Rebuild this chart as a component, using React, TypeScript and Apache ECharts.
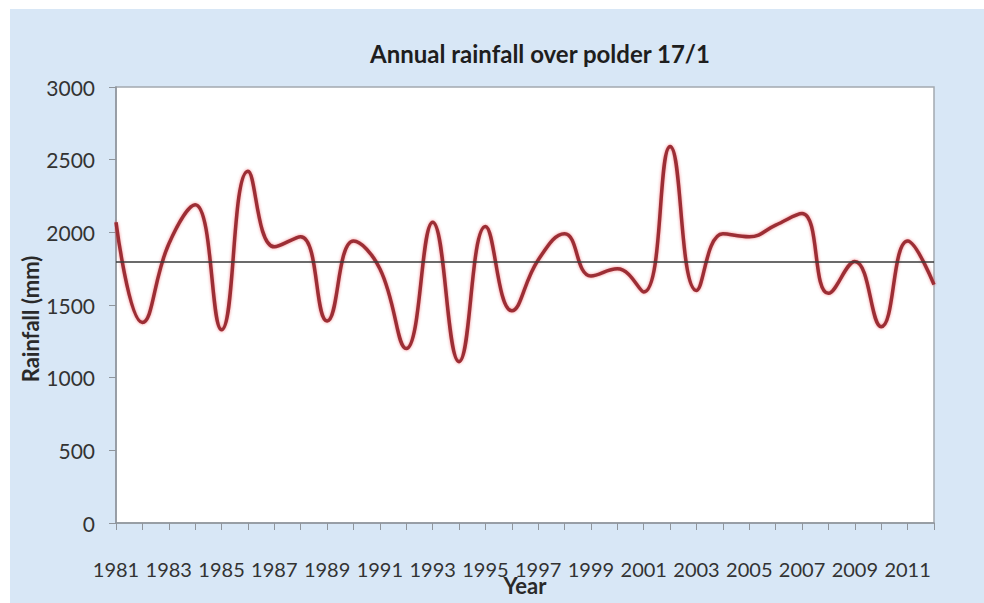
import React, { useEffect, useRef } from "react";
import * as echarts from "echarts";

const years = [
  "1981", "1982", "1983", "1984", "1985", "1986", "1987", "1988",
  "1989", "1990", "1991", "1992", "1993", "1994", "1995", "1996",
  "1997", "1998", "1999", "2000", "2001", "2002", "2003", "2004",
  "2005", "2006", "2007", "2008", "2009", "2010", "2011", "2012",
];

const rainfall = [
  2070, 1380, 1920, 2190, 1330, 2420, 1900, 1970,
  1390, 1940, 1750, 1200, 2070, 1110, 2040, 1460,
  1810, 1990, 1700, 1750, 1590, 2590, 1600, 1990,
  1970, 2050, 2130, 1580, 1800, 1350, 1940, 1640,
];

const meanRainfall = 1800;

const titleText = "Annual rainfall over polder 17/1";
const xName = "Year";
const yName = "Rainfall (mm)";

const FONT = "Lato, 'Liberation Sans', sans-serif";

export default function App() {
  const ref = useRef<HTMLDivElement>(null);

  useEffect(() => {
    if (!ref.current) return;
    const chart = echarts.init(ref.current, undefined, { renderer: "svg" });
    chart.setOption({
      animation: false,
      backgroundColor: "#ffffff",
      graphic: [
        {
          type: "rect",
          left: 10,
          top: 9,
          shape: { width: 974, height: 594 },
          style: { fill: "#d8e7f6" },
          z: -10,
          silent: true,
        },
      ],
      title: {
        text: titleText,
        left: 535,
        top: 36,
        textAlign: "center",
        textStyle: {
          fontFamily: FONT,
          fontSize: 24,
          fontWeight: "bold",
          color: "#1e1e1e",
        },
      },
      grid: {
        left: 116,
        right: 50,
        top: 87,
        bottom: 80,
        containLabel: false,
        outerBoundsMode: "none",
        show: true,
        backgroundColor: "#ffffff",
        borderColor: "#a3a9b0",
        borderWidth: 1.5,
      },
      xAxis: {
        type: "category",
        data: years,
        boundaryGap: false,
        name: xName,
        nameLocation: "middle",
        nameGap: 62,
        nameMoveOverlap: false,
        nameTextStyle: {
          fontFamily: FONT,
          fontSize: 22,
          fontWeight: "bold",
          color: "#2a2a2a",
          verticalAlign: "middle",
          align: "center",
        },
        axisLine: { show: true, lineStyle: { color: "#8f959c", width: 1.5 } },
        axisTick: {
          show: true,
          interval: 0,
          length: 7,
          lineStyle: { color: "#8f959c" },
        },
        axisLabel: {
          interval: 1,
          margin: 36,
          fontFamily: FONT,
          fontSize: 20,
          color: "#333333",
        },
        splitLine: { show: false },
      },
      yAxis: {
        type: "value",
        min: 0,
        max: 3000,
        interval: 500,
        name: yName,
        nameLocation: "middle",
        nameGap: 86,
        nameRotate: 90,
        nameMoveOverlap: false,
        nameTextStyle: {
          fontFamily: FONT,
          fontSize: 22,
          fontWeight: "bold",
          color: "#2a2a2a",
          align: "center",
          verticalAlign: "middle",
          padding: [0, 28, 0, 0],
        },
        axisLine: { show: true, lineStyle: { color: "#8f959c", width: 1.5 } },
        axisTick: { show: true, length: 7, lineStyle: { color: "#8f959c" } },
        axisLabel: {
          margin: 21,
          fontFamily: FONT,
          fontSize: 21,
          color: "#333333",
          formatter: (v: number) => String(v),
        },
        splitLine: { show: false },
      },
      series: [
        {
          name: "Rainfall",
          type: "line",
          data: rainfall,
          smooth: 0.45,
          symbol: "none",
          lineStyle: {
            color: "#9c2f36",
            width: 3.5,
            shadowColor: "rgba(230,40,50,0.55)",
            shadowBlur: 3,
          },
          markLine: {
            silent: true,
            symbol: "none",
            label: { show: false },
            lineStyle: { color: "#3a3a3a", width: 1.5, type: "solid" },
            data: [{ yAxis: meanRainfall }],
          },
        },
      ],
    });
    return () => chart.dispose();
  }, []);

  return (
    <div
      ref={ref}
      style={{ position: "fixed", left: 0, top: 0, width: 984, height: 603 }}
    />
  );
}
